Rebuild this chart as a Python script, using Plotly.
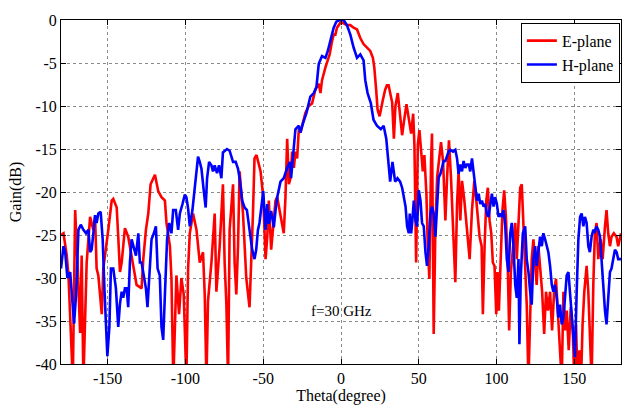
import plotly.graph_objects as go

# ---------------- data ----------------
theta_e = [-180, -178.4, -176.3, -175.2, -172.4, -170.9, -169.4, -167.7, -166.7, -165.6,
           -163.5, -161.3, -159.2, -158.1, -157.1, -156.0, -153.8, -152.8, -149.6, -147.4,
           -146.4, -144.2, -143.2, -142.1, -141.0, -138.9, -136.8, -134.6, -133.5, -131.4,
           -128.2, -127.1, -125.4, -123.9, -122.4, -119.6, -117.5, -115.4, -113.2, -112.2,
           -110.0, -109.0, -107.8, -105.8, -104.1, -102.6, -101.1, -99.4, -98.3, -97.2,
           -95.1, -92.9, -90.8, -88.7, -87.6, -86.5, -85.5, -83.3, -81.2, -80.1,
           -78.0, -75.9, -74.8, -73.7, -72.6, -71.6, -69.4, -68.4, -67.3, -66.2,
           -65.2, -63.0, -60.9, -58.8, -56.6, -55.6, -54.3, -53.0, -51.7, -50.0,
           -48.5, -47.4, -46.4, -44.9, -43.6, -42.1, -41.0, -39.3, -37.8, -36.8,
           -35.7, -34.6, -33.5, -32.5, -31.4, -30.3, -29.3, -28.2, -27.1, -26.1,
           -25.0, -23.9, -22.9, -20.7, -18.6, -16.5, -14.3, -13.2, -12.2, -10.0,
           -8.5, -7.3, -5.8, -4.7, -3.6, -2.6, -1.5, 0.0, 1.7, 3.8,
           6.0, 8.1, 10.3, 12.4, 14.5, 16.7, 18.8, 20.5, 21.4, 22.6,
           23.5, 24.8, 25.6, 26.9, 28.4, 29.5, 30.6, 31.6, 32.9, 34.0,
           35.0, 36.5, 37.8, 39.3, 40.4, 42.1, 43.6, 45.1, 46.4, 47.2,
           48.3, 49.4, 50.4, 51.5, 52.6, 53.6, 54.9, 55.8, 56.8, 57.9,
           58.5, 59.6, 60.7, 61.8, 62.8, 64.3, 65.6, 67.1, 68.2, 69.4,
           70.7, 72.0, 73.5, 74.6, 75.6, 76.7, 77.8, 79.3, 81.0, 82.7,
           84.2, 85.7, 87.0, 88.2, 89.1, 90.4, 91.2, 92.3, 93.4, 94.4,
           95.5, 96.6, 97.6, 98.7, 99.8, 100.6, 101.5, 102.8, 103.8, 104.9,
           106.0, 107.1, 108.1, 109.2, 110.5, 112.0, 113.0, 114.1, 115.2, 116.2,
           117.3, 118.4, 119.4, 120.5, 121.6, 122.6, 123.7, 124.8, 125.8, 126.9,
           128.0, 129.3, 130.6, 131.8, 133.1, 134.4, 135.7, 137.0, 138.2, 139.5,
           140.8, 141.9, 143.0, 144.0, 145.1, 146.4, 147.7, 149.0, 150.0, 151.1,
           152.1, 153.2, 154.3, 155.3, 156.4, 157.9, 159.0, 160.0, 161.1, 162.2,
           163.2, 164.3, 165.4, 166.9, 168.2, 169.7, 170.7, 171.8, 172.9, 173.9,
           175.4, 177.1, 178.2, 180]
gain_e = [-25.0, -24.8, -27.4, -29.7, -42, -22.1, -28.2, -36.4, -27.4, -42,
          -28.2, -22.9, -24.4, -22.9, -28.9, -29.7, -34.2, -28.9, -24.4, -21.0,
          -20.8, -21.8, -25.2, -29.3, -28.2, -24.2, -25.2, -27.4, -28.9, -30.8,
          -31.2, -27.8, -24.4, -22.5, -19.1, -18.0, -19.9, -20.6, -21.0, -23.6,
          -26.3, -30.0, -42, -29.7, -34.2, -30.0, -31.9, -42, -28.9, -24.8,
          -22.5, -24.4, -28.2, -27.0, -31.9, -42, -32.7, -28.2, -22.5, -31.6,
          -26.3, -19.1, -28.2, -33.0, -42, -24.4, -19.1, -28.2, -31.9, -26.3,
          -17.6, -22.5, -30.0, -33.4, -22.5, -16.1, -15.7, -16.5, -17.6, -20.6,
          -27.8, -25.2, -21.0, -26.7, -23.7, -21.0, -20.6, -22.2, -23.7, -24.8,
          -20.6, -13.8, -19.1, -18.4, -15.3, -17.2, -15.3, -16.1, -12.7, -13.1,
          -12.3, -11.6, -10.8, -10.0, -9.7, -8.1, -7.4, -8.5, -7.0, -5.5,
          -4.7, -4.0, -2.5, -1.7, -1.7, -0.9, -0.6, -0.2, -0.4, -0.6,
          -0.6, -0.9, -1.1, -2.1, -2.8, -3.2, -3.6, -4.4, -5.5, -8.1,
          -10.4, -11.2, -10.4, -9.3, -8.1, -7.6, -7.6, -8.5, -9.6, -13.8,
          -10.0, -8.5, -10.8, -13.4, -11.9, -9.8, -11.5, -13.2, -10.9, -14.5,
          -28.2, -14.5, -12.8, -15.3, -17.6, -15.7, -20.2, -26.3, -30.1, -16.4,
          -13.2, -36.5, -24.0, -18.3, -16.4, -14.2, -16.4, -23.3, -18.3, -14.0,
          -18.3, -23.3, -30.5, -21.4, -17.6, -23.3, -18.7, -21.0, -24.0, -27.8,
          -22.1, -18.7, -21.0, -24.0, -25.2, -26.3, -34.2, -26.3, -21.0, -19.5,
          -23.3, -24.8, -28.2, -28.6, -34.2, -29.3, -33.8, -27.1, -22.1, -19.8,
          -22.9, -27.8, -36.1, -29.3, -26.3, -23.6, -27.8, -24.0, -19.5, -19.1,
          -24.0, -28.6, -33.1, -42, -33.1, -27.8, -25.5, -28.6, -30.8, -26.3,
          -28.6, -31.6, -36.5, -31.6, -33.8, -31.6, -36.1, -31.6, -30.1, -33.8,
          -38.4, -42, -31.6, -36.1, -33.8, -38.4, -33.4, -36.1, -42, -35.4,
          -42, -38.4, -42, -35.4, -31.6, -28.6, -31.6, -39.0, -42, -30.8,
          -24.8, -23.6, -27.8, -25.5, -27.8, -24.0, -22.1, -24.8, -26.3, -25.2,
          -24.8, -25.2, -26.3, -24.8]

theta_h = [-180, -178.4, -177.3, -175.9, -174.1, -172.4, -171.6, -170.3, -168.8, -167.3,
           -165.6, -163.9, -162.4, -161.3, -160.3, -159.2, -158.1, -157.1, -156.0, -154.5,
           -153.2, -152.1, -151.1, -150.2, -148.9, -147.9, -146.4, -144.7, -143.2, -142.1,
           -141.0, -140.0, -138.9, -137.8, -136.8, -135.7, -134.6, -133.5, -131.8, -130.3,
           -129.3, -128.2, -127.1, -125.4, -124.4, -123.3, -121.8, -120.3, -119.0, -117.9,
           -116.5, -115.4, -114.3, -113.2, -111.8, -110.5, -109.0, -107.9, -106.2, -104.7,
           -103.6, -101.9, -100.4, -99.4, -98.3, -97.2, -95.5, -94.0, -92.9, -91.9,
           -90.8, -89.7, -88.2, -87.0, -86.1, -84.8, -83.3, -82.3, -81.2, -79.7,
           -78.4, -76.9, -75.9, -74.8, -73.3, -71.6, -70.5, -69.4, -67.7, -66.2,
           -65.2, -63.5, -62.0, -60.5, -58.8, -57.1, -55.6, -54.5, -53.4, -52.4,
           -50.0, -48.5, -47.4, -46.4, -44.9, -43.2, -42.1, -41.0, -38.9, -36.8,
           -34.6, -32.9, -32.1, -30.8, -29.3, -27.1, -26.1, -24.4, -22.2, -19.7,
           -17.5, -15.8, -14.3, -12.2, -10.0, -8.5, -6.8, -4.7, -3.0, -0.9,
           1.7, 3.8, 6.0, 8.1, 10.3, 12.4, 14.5, 15.6, 17.1, 19.2,
           20.9, 23.1, 25.6, 27.4, 29.1, 30.6, 31.6, 33.1, 34.8, 36.3,
           38.0, 39.3, 40.4, 41.5, 42.5, 43.6, 44.2, 45.1, 45.9, 46.8,
           47.9, 48.9, 50.0, 51.1, 52.1, 53.2, 54.3, 55.3, 56.4, 57.5,
           58.5, 59.6, 60.7, 61.8, 62.8, 63.9, 65.0, 66.0, 67.1, 68.2,
           69.2, 70.3, 72.0, 73.5, 74.6, 75.6, 76.7, 77.8, 78.8, 79.9,
           81.0, 82.1, 83.1, 84.2, 85.3, 86.3, 87.4, 88.5, 89.5, 90.6,
           91.7, 92.7, 93.8, 94.9, 95.9, 97.0, 98.1, 99.1, 100.2, 101.3,
           102.4, 103.4, 104.5, 105.6, 106.6, 107.7, 108.8, 109.8, 110.9, 112.0,
           113.0, 114.1, 114.7, 115.6, 116.9, 118.4, 119.4, 120.5, 121.6, 122.6,
           123.7, 124.8, 125.8, 126.9, 128.0, 129.1, 130.1, 131.2, 132.3, 133.3,
           134.4, 135.5, 136.5, 137.6, 138.7, 139.7, 140.8, 141.9, 143.0, 144.0,
           145.1, 146.2, 147.2, 148.3, 149.4, 150.4, 151.5, 152.6, 153.7, 154.7,
           155.8, 156.8, 157.9, 159.0, 160.0, 161.1, 162.2, 163.2, 164.3, 165.4,
           166.5, 167.5, 168.6, 169.7, 170.7, 171.8, 172.9, 173.9, 175.0, 176.1,
           177.2, 178.2, 180]
gain_h = [-28.9, -26.3, -27.0, -30.0, -29.3, -33.0, -35.3, -31.9, -24.4, -23.8,
          -24.4, -24.8, -24.4, -27.0, -26.7, -24.8, -22.7, -23.6, -22.5, -22.3,
          -25.5, -31.2, -35.0, -39.1, -35.7, -28.9, -28.9, -31.2, -35.7, -33.0,
          -31.6, -32.3, -31.2, -31.2, -33.4, -28.2, -25.5, -26.3, -27.4, -24.8,
          -28.2, -28.2, -29.3, -31.2, -33.4, -30.4, -25.5, -24.8, -24.0, -28.9,
          -29.7, -35.7, -37.2, -31.9, -25.5, -23.6, -24.8, -22.1, -22.1, -24.4,
          -22.5, -21.4, -20.3, -20.6, -21.9, -24.0, -22.1, -19.5, -17.6, -15.9,
          -16.5, -17.3, -19.9, -21.8, -18.4, -16.5, -16.9, -17.6, -16.9, -17.8,
          -16.9, -18.4, -15.4, -15.2, -15.0, -15.2, -15.8, -16.5, -16.5, -17.3,
          -18.4, -21.0, -21.8, -22.1, -24.4, -26.7, -27.8, -26.7, -24.4, -23.6,
          -19.9, -24.4, -21.4, -23.7, -22.2, -24.1, -22.2, -20.6, -18.8, -18.4,
          -17.2, -16.5, -18.4, -16.1, -12.7, -12.3, -13.1, -12.0, -10.8, -8.9,
          -8.5, -7.8, -5.1, -4.2, -4.4, -3.6, -2.5, -0.9, -0.2, 0.0,
          0.0, -0.6, -1.7, -3.2, -4.4, -4.0, -4.7, -7.0, -8.5, -9.7,
          -11.6, -12.3, -12.7, -12.3, -13.8, -17.2, -18.8, -16.5, -18.8, -18.4,
          -18.8, -19.5, -20.6, -21.7, -24.0, -24.8, -22.5, -24.8, -23.3, -21.0,
          -23.3, -24.0, -19.8, -21.0, -23.6, -24.0, -27.0, -28.6, -26.3, -22.5,
          -21.7, -22.5, -25.2, -21.7, -18.3, -17.9, -17.2, -16.4, -16.4, -15.7,
          -15.3, -15.1, -15.3, -15.1, -16.1, -17.9, -16.8, -17.6, -16.4, -17.2,
          -16.8, -16.8, -17.6, -16.1, -17.6, -19.5, -21.0, -20.2, -21.4, -21.0,
          -21.7, -21.4, -22.5, -22.9, -21.4, -20.2, -21.7, -20.6, -21.4, -22.9,
          -22.5, -22.9, -22.1, -24.0, -27.8, -29.3, -24.8, -23.6, -26.3, -30.8,
          -32.3, -27.8, -37.7, -29.7, -24.8, -24.0, -27.8, -29.3, -31.6, -33.1,
          -27.8, -26.3, -28.6, -26.7, -25.2, -26.3, -24.8, -25.5, -26.3, -27.0,
          -28.6, -30.8, -31.6, -30.8, -32.3, -34.6, -33.1, -35.4, -34.6, -31.6,
          -29.7, -29.3, -31.6, -33.8, -36.9, -39.2, -31.6, -25.5, -22.9, -22.5,
          -24.0, -22.9, -23.6, -26.3, -27.0, -25.2, -24.4, -24.6, -24.0, -24.4,
          -25.2, -27.8, -31.6, -33.8, -35.4, -32.3, -29.3, -28.9, -27.8, -26.7,
          -27.0, -27.8, -27.8]

x_ticks = [-150, -100, -50, 0, 50, 100, 150]
x_labels = ["-150", "-100", "-50", "0", "50", "100", "150"]
y_ticks = [0, -5, -10, -15, -20, -25, -30, -35, -40]
y_labels = ["0", "-5", "-10", "-15", "-20", "-25", "-30", "-35", "-40"]

FONT = "Liberation Serif"

fig = go.Figure()
fig.add_trace(go.Scatter(x=theta_e, y=gain_e, mode="lines", name="E-plane",
                         line=dict(color="#FF0000", width=2.6)))
fig.add_trace(go.Scatter(x=theta_h, y=gain_h, mode="lines", name="H-plane",
                         line=dict(color="#0000FF", width=2.6)))

axis_common = dict(
    showline=True, linecolor="black", linewidth=1, mirror="ticks",
    ticks="inside", ticklen=5, tickcolor="black",
    showgrid=True, gridcolor="#8a8a8a", griddash="dot", gridwidth=1,
    zeroline=False,
    tickfont=dict(family=FONT, size=16, color="black"),
)

fig.update_xaxes(range=[-180, 180], tickvals=x_ticks, ticktext=x_labels,
                 title=dict(text="Theta(degree)", font=dict(family=FONT, size=16, color="black"),
                            standoff=2),
                 **axis_common)
fig.update_yaxes(range=[-40, 0], tickvals=y_ticks, ticktext=y_labels,
                 title=dict(text="Gain(dB)", font=dict(family=FONT, size=16, color="black"),
                            standoff=9),
                 **axis_common)

fig.add_annotation(x=0, y=-33.8, text="f=30 GHz", showarrow=False,
                   font=dict(family=FONT, size=15, color="black"))

fig.update_layout(
    width=637, height=412,
    margin=dict(l=61, r=16, t=15, b=45),
    paper_bgcolor="white", plot_bgcolor="white",
    font=dict(family=FONT, size=16, color="black"),
    showlegend=True,
    legend=dict(x=0.998, y=0.992, xanchor="right", yanchor="top",
                bgcolor="white", bordercolor="black", borderwidth=1,
                font=dict(family=FONT, size=16, color="black"),
                tracegroupgap=0, itemwidth=30),
)

fig.write_html("out.html")
